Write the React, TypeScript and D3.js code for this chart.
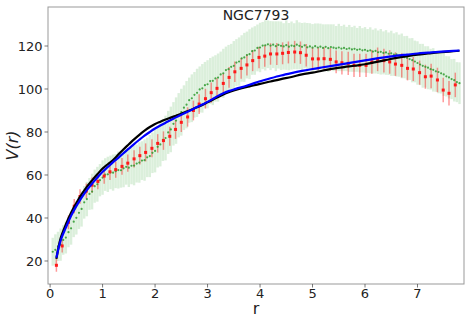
import React from 'react';
import * as d3 from 'd3';

// green: dense rotation curve samples (r, V, err)
const greenR = [
  0.05, 0.1, 0.15, 0.2, 0.25, 0.3, 0.35, 0.4, 0.45, 0.5, 0.55, 0.6, 0.65, 0.7, 0.75, 0.8, 0.85, 0.9, 0.95, 1.0,
  1.05, 1.1, 1.15, 1.2, 1.25, 1.3, 1.35, 1.4, 1.45, 1.5, 1.55, 1.6, 1.65, 1.7, 1.75, 1.8, 1.85, 1.9, 1.95, 2.0,
  2.05, 2.1, 2.15, 2.2, 2.25, 2.3, 2.35, 2.4, 2.45, 2.5, 2.55, 2.6, 2.65, 2.7, 2.75, 2.8, 2.85, 2.9, 2.95, 3.0,
  3.05, 3.1, 3.15, 3.2, 3.25, 3.3, 3.35, 3.4, 3.45, 3.5, 3.55, 3.6, 3.65, 3.7, 3.75, 3.8, 3.85, 3.9, 3.95, 4.0,
  4.05, 4.1, 4.15, 4.2, 4.25, 4.3, 4.35, 4.4, 4.45, 4.5, 4.55, 4.6, 4.65, 4.7, 4.75, 4.8, 4.85, 4.9, 4.95, 5.0,
  5.05, 5.1, 5.15, 5.2, 5.25, 5.3, 5.35, 5.4, 5.45, 5.5, 5.55, 5.6, 5.65, 5.7, 5.75, 5.8, 5.85, 5.9, 5.95, 6.0,
  6.05, 6.1, 6.15, 6.2, 6.25, 6.3, 6.35, 6.4, 6.45, 6.5, 6.55, 6.6, 6.65, 6.7, 6.75, 6.8, 6.85, 6.9, 6.95, 7.0,
  7.05, 7.1, 7.15, 7.2, 7.25, 7.3, 7.35, 7.4, 7.45, 7.5, 7.55, 7.6, 7.65, 7.7, 7.75, 7.8,
];
const greenV = [
  24.3, 25.2, 26.8, 27.6, 29.8, 30.9, 33.4, 35.2, 38.3, 40.1, 42.4, 44.2, 47.3, 48.8, 51.2, 52.3, 54.8, 55.7, 57.6, 58.8,
  60.2, 60.3, 61.2, 61.1, 61.8, 62.3, 62.2, 63.1, 63.8, 63.4, 64.3, 64.4, 65.3, 65.8, 66.7, 66.9, 68.2, 68.8, 70.3, 71.2,
  73.1, 74.2, 76.3, 77.2, 79.8, 81.2, 83.8, 85.3, 87.8, 89.2, 91.3, 92.7, 94.8, 95.7, 97.3, 98.2, 99.8, 100.3, 101.8, 102.2,
  103.7, 103.8, 104.9, 105.3, 106.8, 107.3, 108.8, 109.2, 110.3, 110.8, 112.3, 112.8, 114.2, 114.7, 115.8, 116.2, 117.6, 117.9, 119.1, 119.3,
  120.2, 120.3, 120.8, 120.2, 120.6, 119.9, 120.5, 120.1, 119.8, 120.4, 119.7, 120.2, 119.9, 120.6, 120.1, 119.6, 120.3, 119.4, 119.8, 119.2,
  119.9, 119.3, 119.7, 119.1, 119.6, 119.0, 119.5, 119.2, 118.9, 119.3, 118.8, 119.1, 118.6, 118.9, 118.4, 118.7, 118.2, 118.5, 118.0, 118.2,
  117.7, 118.0, 117.4, 117.7, 117.1, 117.3, 116.8, 117.0, 116.4, 116.6, 116.0, 116.1, 115.5, 115.4, 114.8, 114.5, 113.9, 113.4, 112.8, 112.1,
  111.4, 110.8, 110.3, 109.9, 109.2, 108.9, 108.2, 107.9, 107.3, 106.8, 105.9, 105.4, 104.6, 104.1, 103.2, 102.7,
];
const greenErr = [
  6.5, 7.2, 6.8, 7.5, 6.9, 7.4, 7.0, 7.6, 7.2, 7.8, 7.5, 8.2, 7.6, 8.0, 7.4, 8.3, 7.7, 8.1, 7.5, 8.0,
  7.6, 8.2, 7.8, 8.4, 7.9, 8.6, 8.1, 8.8, 8.3, 9.0, 8.6, 9.2, 8.8, 9.4, 9.0, 9.6, 9.2, 9.8, 9.4, 10.0,
  9.6, 10.2, 9.8, 10.4, 10.0, 10.6, 10.1, 10.8, 10.3, 10.9, 10.4, 11.0, 10.5, 11.1, 10.6, 11.2, 10.7, 11.3, 10.8, 11.2,
  10.7, 11.3, 10.8, 11.2, 10.6, 11.4, 10.9, 11.3, 10.7, 11.5, 10.9, 11.2, 10.8, 11.4, 10.9, 11.6, 11.0, 11.3, 10.9, 11.5,
  11.0, 11.7, 11.1, 11.4, 10.9, 11.6, 11.0, 11.3, 10.8, 11.5, 11.0, 11.2, 10.7, 11.4, 10.9, 11.1, 10.6, 11.3, 10.8, 11.0,
  10.6, 11.2, 10.7, 11.0, 10.5, 11.1, 10.6, 10.9, 10.4, 11.0, 10.5, 10.8, 10.3, 10.9, 10.4, 10.7, 10.2, 10.8, 10.3, 10.6,
  10.2, 10.7, 10.2, 10.5, 10.1, 10.6, 10.0, 10.4, 9.9, 10.5, 9.9, 10.3, 9.8, 10.4, 9.8, 10.2, 9.7, 10.3, 9.7, 10.1,
  9.6, 10.2, 9.6, 10.0, 9.5, 10.1, 9.5, 9.9, 9.4, 10.0, 9.4, 9.8, 9.3, 9.9, 9.3, 9.7,
];

// red: binned points with errors
const redR = [
  0.12, 0.23, 0.35, 0.46, 0.57, 0.69, 0.8, 0.91, 1.03, 1.14, 1.25, 1.37, 1.48, 1.6, 1.71, 1.82, 1.94,
  2.05, 2.16, 2.28, 2.39, 2.5, 2.62, 2.73, 2.84, 2.96, 3.07, 3.18, 3.3, 3.41, 3.52, 3.64, 3.75, 3.86,
  3.98, 4.09, 4.2, 4.32, 4.43, 4.54, 4.66, 4.77, 4.88, 5.0, 5.11, 5.22, 5.34, 5.45, 5.56, 5.68, 5.79,
  5.9, 6.02, 6.13, 6.24, 6.36, 6.47, 6.58, 6.7, 6.81, 6.92, 7.04, 7.15, 7.26, 7.38, 7.49, 7.6, 7.72,
];
const redV = [
  18, 27, 38, 45.5, 50, 52.5, 55.3, 57, 59.5, 61.5, 62.5, 64, 65.5, 67.5, 69, 70.5, 72.4,
  74.7, 76, 78, 81.2, 84.5, 87, 90, 93, 95.5, 98.3, 100.3, 102.6, 105.4, 108, 109.6, 111.2, 113.2,
  114.7, 115.3, 116.3, 116.3, 116.6, 117, 117.2, 116.9, 115.7, 114, 114, 114.1, 113.8, 112.6, 112.2, 111.9, 111,
  111, 111, 112.6, 113.8, 113.2, 112.6, 111.6, 111, 109.6, 109.3, 107.6, 105.7, 106, 104.2, 99.5, 98, 101.9,
];
const redErr = [
  3, 3, 3.2, 3.3, 3.4, 3.5, 3.5, 3.6, 3.6, 3.8, 3.8, 3.9, 4, 4, 4.1, 4.2, 4.2,
  4.3, 4.3, 4.4, 4.4, 4.5, 4.5, 4.6, 4.6, 4.6, 4.7, 4.7, 4.7, 4.8, 4.8, 4.8, 4.9, 4.9,
  5, 5, 5, 5.1, 5.1, 5.1, 5.2, 5.2, 5.2, 5.2, 5.3, 5.3, 5.3, 5.3, 5.4, 5.4, 5.4,
  5.4, 5.4, 5.5, 5.5, 5.5, 5.5, 5.5, 5.6, 5.6, 5.6, 5.6, 5.6, 5.7, 5.7, 5.7, 5.7, 5.7,
];

// model curves
const modelR = [
  0.12, 0.2, 0.3, 0.4, 0.5, 0.6, 0.7, 0.8, 0.9, 1.0, 1.1, 1.2, 1.3, 1.4, 1.5, 1.6, 1.7, 1.8, 1.9, 2.0,
  2.1, 2.2, 2.3, 2.4, 2.5, 2.6, 2.7, 2.8, 2.9, 3.0, 3.1, 3.2, 3.3, 3.4, 3.5, 3.6, 3.8, 4.0, 4.2, 4.4,
  4.6, 4.8, 5.0, 5.2, 5.4, 5.6, 5.8, 6.0, 6.2, 6.4, 6.6, 6.8, 7.0, 7.2, 7.4, 7.6, 7.8,
];
const blackV = [
  21, 30.5, 37, 42.5, 47, 51, 54.5, 57.5, 60.3, 63, 65, 67, 69.5, 72, 74.3, 76.6, 78.7, 80.6, 82.3, 83.7,
  84.8, 85.8, 86.7, 87.6, 88.5, 89.5, 90.5, 91.5, 92.6, 93.8, 95, 96.3, 97.5, 98.5, 99.3, 100, 101.2, 102.4, 103.5, 104.6,
  105.6, 106.8, 107.6, 108.6, 109.5, 110.2, 110.8, 111.5, 112.5, 113.5, 114.5, 115.3, 116, 116.5, 117, 117.4, 117.8,
];
const blueV = [
  21.5, 29.5, 35.5, 41, 45.5, 49.5, 53, 56, 58.8, 61.5, 63.7, 66, 68, 70.2, 72.3, 74.4, 76.4, 78.3, 80, 81.6,
  83, 84.3, 85.6, 86.8, 88, 89.2, 90.4, 91.6, 92.8, 94, 95.4, 96.8, 98, 99, 99.8, 100.5, 102, 103.6, 105, 106.3,
  107.4, 108.4, 109.3, 110.1, 110.9, 111.7, 112.5, 113.3, 114.1, 114.8, 115.5, 116, 116.5, 116.9, 117.3, 117.6, 117.9,
];

const xTicks = [0, 1, 2, 3, 4, 5, 6, 7];
const yTicks = [20, 40, 60, 80, 100, 120];

const W = 471, H = 322;
const box = { left: 48, right: 464, top: 7, bottom: 284 };
const font = 'DejaVu Sans, sans-serif';

export default function App() {
  const x = d3.scaleLinear().domain([-0.04, 7.886]).range([box.left, box.right]);
  const y = d3.scaleLinear().domain([9.3, 138.14]).range([box.bottom, box.top]);

  const line = d3.line<[number, number]>()
    .x(d => x(d[0]))
    .y(d => y(d[1]))
    .curve(d3.curveCatmullRom);

  const black = modelR.map((r, i) => [r, blackV[i]] as [number, number]);
  const blue = modelR.map((r, i) => [r, blueV[i]] as [number, number]);

  return (
    <svg width={W} height={H} style={{ position: 'absolute', left: 0, top: 0, background: '#fff' }} fontFamily={font}>
      {/* green error bars */}
      <g stroke="#2ca02c" strokeOpacity={0.17} strokeWidth={2.4}>
        {greenR.map((r, i) => (
          <line key={i} x1={x(r)} x2={x(r)} y1={y(greenV[i] - greenErr[i])} y2={y(greenV[i] + greenErr[i])} />
        ))}
      </g>
      {/* red error bars */}
      <g stroke="#ff0000" strokeOpacity={0.4} strokeWidth={1.5}>
        {redR.map((r, i) => (
          <line key={i} x1={x(r)} x2={x(r)} y1={y(redV[i] - redErr[i])} y2={y(redV[i] + redErr[i])} />
        ))}
      </g>
      {/* green markers */}
      <g fill="#2e9a2e" fillOpacity={0.85}>
        {greenR.map((r, i) => (
          <circle key={i} cx={x(r)} cy={y(greenV[i])} r={1.1} />
        ))}
      </g>
      {/* red markers */}
      <g fill="#ff1a1a">
        {redR.map((r, i) => (
          <rect key={i} x={x(r) - 1.5} y={y(redV[i]) - 1.5} width={3} height={3} />
        ))}
      </g>
      <path d={line(black) || ''} fill="none" stroke="#000" strokeWidth={2.2} />
      <path d={line(blue) || ''} fill="none" stroke="#0000ff" strokeWidth={2.2} />

      {/* frame */}
      <rect x={box.left} y={box.top} width={box.right - box.left} height={box.bottom - box.top}
        fill="none" stroke="#999" strokeWidth={1} />

      {/* x axis */}
      {xTicks.map(t => (
        <g key={t} transform={`translate(${x(t)},${box.bottom})`}>
          <line y2={3.5} stroke="#555" strokeWidth={0.8} />
          <text y={13.5} textAnchor="middle" fontSize={13} fill="#222">{t}</text>
        </g>
      ))}
      {/* y axis */}
      {yTicks.map(t => (
        <g key={t} transform={`translate(${box.left},${y(t)})`}>
          <line x2={-3.5} stroke="#555" strokeWidth={0.8} />
          <text x={-5.5} dy="0.35em" textAnchor="end" fontSize={13} fill="#222">{t}</text>
        </g>
      ))}

      <text x={(box.left + box.right) / 2} y={20} textAnchor="middle" fontSize={14} fill="#222">NGC7793</text>
      <text x={(box.left + box.right) / 2} y={314} textAnchor="middle" fontSize={16} fill="#222">r</text>
      <text transform={`translate(18,${(box.top + box.bottom) / 2}) rotate(-90)`} textAnchor="middle"
        fontSize={16} fill="#222" fontStyle="italic">V(r)</text>
    </svg>
  );
}
